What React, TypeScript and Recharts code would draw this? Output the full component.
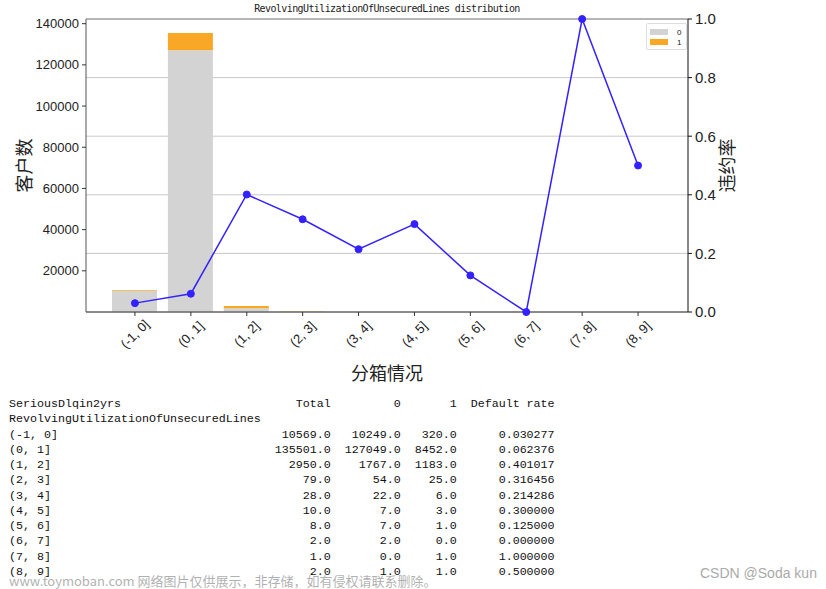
import React from "react";
import {
  ComposedChart, Bar, Line, XAxis, YAxis, CartesianGrid, ReferenceLine, Label,
} from "recharts";

const BINS = ["(-1, 0]", "(0, 1]", "(1, 2]", "(2, 3]", "(3, 4]", "(4, 5]", "(5, 6]", "(6, 7]", "(7, 8]", "(8, 9]"];
const TOTAL = [10569, 135501, 2950, 79, 28, 10, 8, 2, 1, 2];
const GOOD = [10249, 127049, 1767, 54, 22, 7, 7, 2, 0, 1];
const BAD = [320, 8452, 1183, 25, 6, 3, 1, 0, 1, 1];
const RATE = [0.030277, 0.062376, 0.401017, 0.316456, 0.214286, 0.3, 0.125, 0.0, 1.0, 0.5];
const LEFT_TICKS = [20000, 40000, 60000, 80000, 100000, 120000, 140000];
const RIGHT_TICKS = [0, 0.2, 0.4, 0.6, 0.8, 1.0];
const LEGEND_KEYS = ["0", "1"];

const GRAY = "#d3d3d3";
const ORANGE = "#f9a825";
const BLUE = "#3322ff";

const data = BINS.map((bin, i) => ({ bin, good: GOOD[i], bad: BAD[i], rate: RATE[i] }));
const leftMax = Math.max(...TOTAL) * 1.05;

function XTick({ x, y, payload }: any) {
  const cy = y + 18;
  return (
    <text
      x={x} y={cy} textAnchor="middle" dominantBaseline="central"
      transform={`rotate(-45, ${x}, ${cy})`}
      fontSize={13} fill="#222" fontFamily="Liberation Sans, sans-serif"
    >
      {payload.value}
    </text>
  );
}

function LegendBox() {
  const colors = [GRAY, ORANGE];
  return (
    <div style={{
      position: "absolute", left: 646, top: 23,
      border: "1px solid #ddd", borderRadius: 2, background: "#fff",
      padding: "3px 5px 2px 3px", fontSize: 8, fontFamily: "Liberation Sans, sans-serif", color: "#222",
    }}>
      {LEGEND_KEYS.map((k, i) => (
        <div key={k} style={{ display: "flex", alignItems: "center", height: 10 }}>
          <span style={{ width: 18, height: 6, background: colors[i], display: "inline-block", marginRight: 9 }} />
          <span>{k}</span>
        </div>
      ))}
    </div>
  );
}

function fmtRow(label: string, cols: string[]) {
  const w = [8, 8, 6, 12];
  return label.padEnd(36) + cols.map((c, i) => "  " + c.padStart(w[i])).join("");
}

export default function App() {
  const lines = [
    fmtRow("SeriousDlqin2yrs", ["Total", "0", "1", "Default rate"]),
    "RevolvingUtilizationOfUnsecuredLines",
    ...BINS.map((b, i) =>
      fmtRow(b, [TOTAL[i].toFixed(1), GOOD[i].toFixed(1), BAD[i].toFixed(1), RATE[i].toFixed(6)])
    ),
  ];

  return (
    <div style={{ position: "absolute", left: 0, top: 0, width: 826, height: 589, background: "#fff", overflow: "hidden" }}>
      <div style={{
        position: "absolute", left: 86, width: 602, top: 3, textAlign: "center",
        fontFamily: "DejaVu Sans Mono, monospace", fontSize: 10, letterSpacing: -0.6, color: "#222",
      }}>
        RevolvingUtilizationOfUnsecuredLines distribution
      </div>
      <ComposedChart
        width={826} height={400} data={data}
        margin={{ top: 19, right: 78, left: 0, bottom: 0 }}
      >
        <CartesianGrid yAxisId="right" vertical={false} stroke="#c8c8c8" />
        <XAxis
          dataKey="bin" interval={0} height={88} tickSize={4} tickMargin={0}
          padding={{ left: 21, right: 22 }} tick={<XTick />}
          axisLine={{ stroke: "#333" }} tickLine={{ stroke: "#333" }}
        >
          <Label value="分箱情况" position="insideBottom" offset={20} fontSize={18} fill="#222"
            fontFamily="Noto Sans CJK SC, sans-serif" />
        </XAxis>
        <YAxis
          yAxisId="left" width={86} domain={[0, leftMax]} ticks={LEFT_TICKS} allowDataOverflow
          tickSize={4} tickMargin={3} tick={{ fontSize: 13, fill: "#222", fontFamily: "Liberation Sans, sans-serif" }}
          axisLine={{ stroke: "#555" }} tickLine={{ stroke: "#333" }}
        >
          <Label value="客户数" angle={-90} position="insideLeft" offset={25} fontSize={18} fill="#222"
            style={{ textAnchor: "middle" }} fontFamily="Noto Sans CJK SC, sans-serif" />
        </YAxis>
        <YAxis
          yAxisId="right" orientation="right" width={60} domain={[0, 1]} ticks={RIGHT_TICKS}
          tickFormatter={(v) => v.toFixed(1)} tickSize={4} tickMargin={3}
          tick={{ fontSize: 15, fill: "#222", fontFamily: "Liberation Sans, sans-serif" }}
          axisLine={{ stroke: "#111" }} tickLine={{ stroke: "#111" }}
        >
          <Label value="违约率" angle={-90} position="insideRight" offset={20} fontSize={18} fill="#222"
            style={{ textAnchor: "middle" }} fontFamily="Noto Sans CJK SC, sans-serif" />
        </YAxis>
        <ReferenceLine yAxisId="right" y={1} stroke="#888" />
        <Bar yAxisId="left" dataKey="good" name="0" stackId="a" fill={GRAY} barSize={45} isAnimationActive={false} />
        <Bar yAxisId="left" dataKey="bad" name="1" stackId="a" fill={ORANGE} barSize={45} isAnimationActive={false} />
        <Line
          yAxisId="right" dataKey="rate" stroke={BLUE} strokeWidth={1.5} type="linear"
          dot={{ r: 3.5, fill: BLUE, stroke: BLUE, strokeWidth: 1 }} isAnimationActive={false}
        />
      </ComposedChart>
      <LegendBox />
      <pre style={{
        position: "absolute", left: 9, top: 397, margin: 0,
        fontFamily: "Liberation Mono, monospace", fontSize: 11.67, lineHeight: "15.27px", color: "#111",
      }}>
        {lines.join("\n")}
      </pre>
      <div style={{
        position: "absolute", left: 9, top: 571, fontSize: 13, color: "rgba(150,150,150,0.75)",
        fontFamily: "Noto Sans CJK SC, sans-serif", whiteSpace: "nowrap",
      }}>
        www.toymoban.com 网络图片仅供展示，非存储，如有侵权请联系删除。
      </div>
      <div style={{
        position: "absolute", left: 700, top: 565, fontSize: 14, color: "#aaa",
        fontFamily: "Liberation Sans, sans-serif", whiteSpace: "nowrap",
      }}>
        CSDN @Soda kun
      </div>
    </div>
  );
}
